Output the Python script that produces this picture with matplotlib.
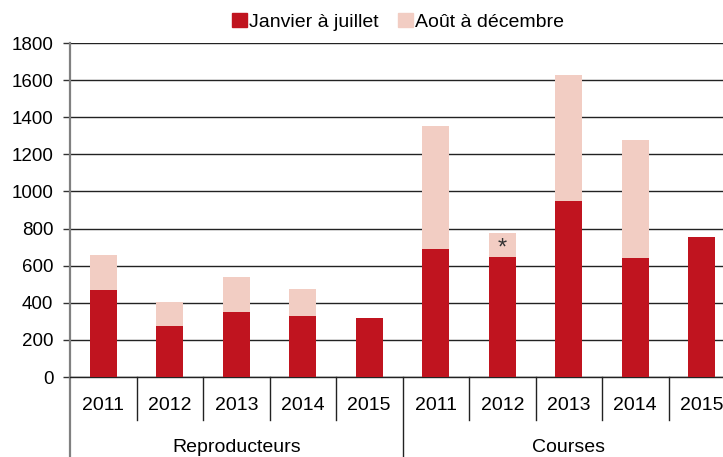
import numpy as np
import matplotlib
matplotlib.use("Agg")
import matplotlib.pyplot as plt
from matplotlib.patches import Patch

plt.rcParams['font.family'] = ['Liberation Sans', 'DejaVu Sans']

# data
groups = ['Reproducteurs', 'Courses']
years = ['2011', '2012', '2013', '2014', '2015']
jan_jul = [468, 275, 349, 328, 318, 692, 649, 951, 643, 757]      # Janvier a juillet
total = [656, 403, 538, 473, 318, 1351, 778, 1627, 1276, 757]      # total de l'annee
aug_dec = [t - j for t, j in zip(total, jan_jul)]                   # Aout a decembre

red = '#C0141F'
pink = '#F2CDC3'

fig = plt.figure(figsize=(7.23, 4.57), dpi=100)
ax = fig.add_axes([70/723, 80/457, 665/723, 334/457])

x = np.arange(len(jan_jul))
ax.bar(x, jan_jul, width=0.41, color=red, zorder=3)
ax.bar(x, aug_dec, width=0.41, bottom=jan_jul, color=pink, zorder=3)

# asterisk on Courses 2012
ax.text(6, 690, '*', ha='center', va='center', fontsize=17, color='#333333', zorder=4)

ax.set_xlim(-0.5, 9.5)
ax.set_ylim(0, 1800)
ax.set_yticks(np.arange(0, 1801, 200))
ax.yaxis.grid(True, color='#222222', lw=1.0, zorder=1)
ax.tick_params(axis='y', length=5, width=1, color='#333333', pad=7, labelsize=13.5)
ax.set_xticks([])

for s in ['top', 'right']:
    ax.spines[s].set_visible(False)
ax.spines['left'].set_color('#808080')
ax.spines['left'].set_linewidth(1.6)
ax.spines['bottom'].set_color('#222222')
ax.spines['bottom'].set_linewidth(1.0)

trans = ax.get_xaxis_transform()
# category dividers
for k in range(11):
    xd = k - 0.5
    y_end = -0.24 if k in (0, 5, 10) else -0.129
    col = '#808080' if k == 0 else '#222222'
    lw = 1.6 if k == 0 else 1.0
    ax.plot([xd, xd], [0, y_end], transform=trans, color=col, lw=lw, clip_on=False)

# year labels
for i in range(len(jan_jul)):
    ax.text(i, -0.085, years[i % 5], transform=trans, ha='center', va='center', fontsize=14)

# group labels
for g, name in enumerate(groups):
    ax.text(2 + 5 * g, -0.21, name, transform=trans, ha='center', va='center', fontsize=14)

handles = [Patch(color=red, label='Janvier à juillet'),
           Patch(color=pink, label='Août à décembre')]
fig.legend(handles=handles, loc='center', bbox_to_anchor=(398/723, 1 - 22/457), ncol=2,
           frameon=False, fontsize=14, handlelength=0.75, handleheight=0.75,
           handletextpad=0.1, columnspacing=1.0, borderpad=0)

fig.savefig('out.png', dpi=100)
